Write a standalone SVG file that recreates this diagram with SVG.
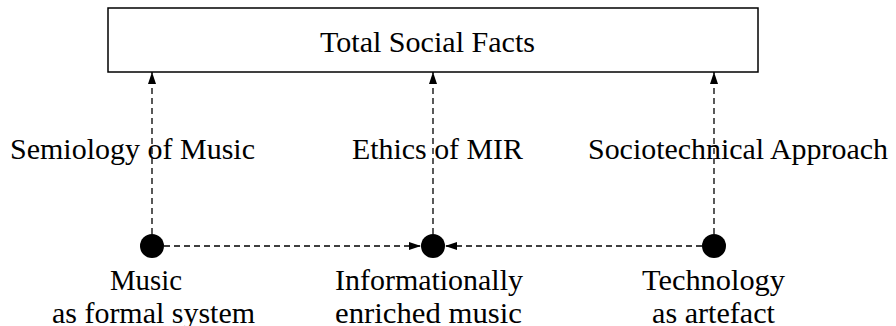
<svg xmlns="http://www.w3.org/2000/svg" width="896" height="326" viewBox="0 0 896 326">
<style>
  text { font-family: "Liberation Serif", "Times New Roman", serif; font-size: 29px; fill: #000; }
  .dash { stroke: #000; stroke-width: 1.3; stroke-dasharray: 6 4; fill: none; }
  .node { fill: #000; }
</style>
<defs>
  <marker id="arr" viewBox="0 0 12 8" refX="12" refY="4" markerWidth="12" markerHeight="8" markerUnits="userSpaceOnUse" orient="auto">
    <path d="M0,0 L12,4 L0,8 Z" fill="#000"/>
  </marker>
</defs>
<rect width="896" height="326" fill="#fff"/>
<g id="total-social-facts">
  <rect x="108" y="8" width="650" height="64" fill="#fff" stroke="#000" stroke-width="1.5"/>
  <text x="320" y="52" textLength="215" lengthAdjust="spacingAndGlyphs">Total Social Facts</text>
</g>
<g id="connectors">
  <line class="dash" x1="152" y1="234" x2="152" y2="72" marker-end="url(#arr)"/>
  <line class="dash" x1="433" y1="234" x2="433" y2="72" marker-end="url(#arr)"/>
  <line class="dash" x1="714" y1="234" x2="714" y2="72" marker-end="url(#arr)"/>
  <line class="dash" x1="164" y1="246" x2="421" y2="246" marker-end="url(#arr)"/>
  <line class="dash" x1="702" y1="246" x2="445" y2="246" marker-end="url(#arr)"/>
</g>
<g id="edge-labels">
  <text x="10" y="159" textLength="245" lengthAdjust="spacingAndGlyphs">Semiology of Music</text>
  <text x="352" y="159" textLength="171" lengthAdjust="spacingAndGlyphs">Ethics of MIR</text>
  <text x="588" y="159" textLength="300" lengthAdjust="spacingAndGlyphs">Sociotechnical Approach</text>
</g>
<g id="music">
  <circle class="node" cx="152" cy="246" r="12"/>
  <text x="110" y="290" textLength="72" lengthAdjust="spacingAndGlyphs">Music</text>
  <text x="52" y="323" textLength="203" lengthAdjust="spacingAndGlyphs">as formal system</text>
</g>
<g id="informationally-enriched-music">
  <circle class="node" cx="433" cy="246" r="12"/>
  <text x="335" y="290" textLength="188" lengthAdjust="spacingAndGlyphs">Informationally</text>
  <text x="335" y="323" textLength="187" lengthAdjust="spacingAndGlyphs">enriched music</text>
</g>
<g id="technology">
  <circle class="node" cx="714" cy="246" r="12"/>
  <text x="642" y="290" textLength="143" lengthAdjust="spacingAndGlyphs">Technology</text>
  <text x="652" y="323" textLength="123" lengthAdjust="spacingAndGlyphs">as artefact</text>
</g>
</svg>
